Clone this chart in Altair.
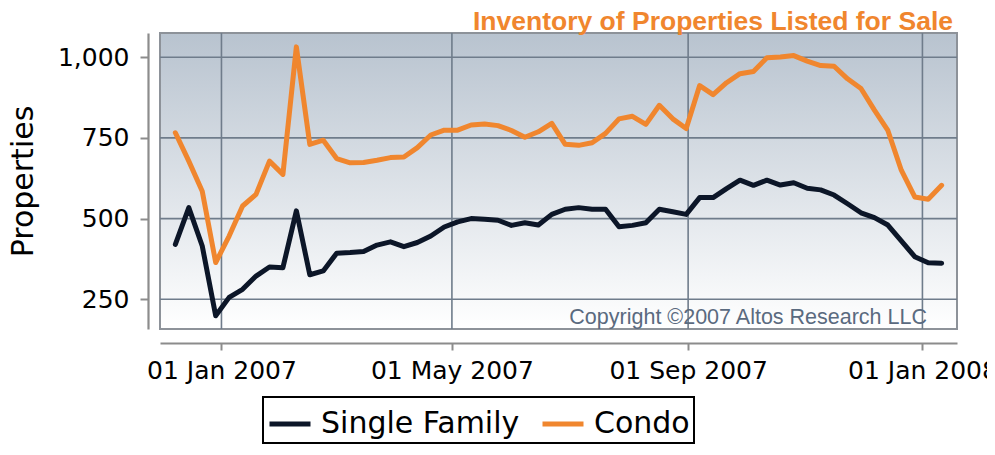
import altair as alt
import pandas as pd

# ---- data (weekly) ----
start_date = "2006-12-08"
n_weeks = 58
dates = [d.strftime("%Y-%m-%d") for d in pd.date_range(start_date, periods=n_weeks, freq="7D")]

single_family = [420, 534, 415, 199, 256, 281, 322, 350, 348, 524, 326, 338, 393, 395, 398,
                 418, 428, 413, 426, 446, 474, 490, 500, 498, 495, 479, 487, 480, 513, 529,
                 534, 529, 529, 475, 479, 487, 529, 521, 513, 565, 565, 593, 619, 603, 619,
                 604, 611, 594, 589, 573, 546, 518, 503, 480, 431, 382, 363, 362]
condo = [766, 678, 585, 364, 446, 539, 575, 678, 637, 1032, 730, 743, 686, 673, 674,
         681, 689, 691, 720, 759, 774, 774, 790, 793, 788, 773, 752, 769, 795, 730,
         727, 735, 764, 809, 817, 792, 851, 809, 779, 912, 884, 921, 949, 956, 998,
         1001, 1005, 988, 974, 972, 933, 903, 836, 773, 650, 567, 560, 603]

series_names = ["Single Family", "Condo"]
series_colors = ["#0c1628", "#f0862e"]
y_ticks = [250, 500, 750, 1000]
x_ticks = ["2007-01-01", "2007-05-01", "2007-09-01", "2008-01-01"]
x_domain = ["2006-11-30", "2008-01-19"]
y_domain = [158, 1075]
title_text = "Inventory of Properties Listed for Sale"
copyright_text = "Copyright \u00a92007 Altos Research LLC"

W, H = 797, 296

df = pd.DataFrame({
    "date": dates * 2,
    "series": ["Single Family"] * n_weeks + ["Condo"] * n_weeks,
    "value": single_family + condo,
})


def dt(s):
    y, m, d = (int(p) for p in s.split("-"))
    return alt.DateTime(year=y, month=m, date=d, utc=True)


xscale = alt.Scale(type="utc", domain=[dt(s) for s in x_domain])
yscale = alt.Scale(domain=y_domain, nice=False, zero=False)

xaxis = alt.Axis(values=[dt(s) for s in x_ticks], format="%d %b %Y",
                 title=None, offset=14, tickSize=7, labelPadding=8,
                 labelFlush=False, labelOverlap=False, grid=False)
yaxis = alt.Axis(values=y_ticks, format=",.0f", title="Properties",
                 offset=12, tickSize=8, labelPadding=11, titlePadding=19,
                 grid=False)

grad = alt.Gradient(
    gradient="linear",
    stops=[alt.GradientStop(color="#b8c3cf", offset=0),
           alt.GradientStop(color="#ffffff", offset=1)],
    x1=0, x2=0, y1=0, y2=1,
)

bg = alt.Chart(pd.DataFrame({"k": [0]})).mark_rect(
    fill=grad, stroke="#8d9299", strokeWidth=2
).encode(x=alt.value(0), x2=alt.value(W), y=alt.value(0), y2=alt.value(H))

grid_color = "#6f7c8b"
vgrid = alt.Chart(pd.DataFrame({"date": x_ticks})).mark_rule(
    color=grid_color, strokeWidth=1.6
).encode(x=alt.X("date:T", scale=xscale, axis=xaxis))

hgrid = alt.Chart(pd.DataFrame({"value": y_ticks})).mark_rule(
    color=grid_color, strokeWidth=1.6
).encode(y=alt.Y("value:Q", scale=yscale, axis=yaxis))

lines = alt.Chart(df).mark_line(
    strokeWidth=5, strokeJoin="round", strokeCap="round"
).encode(
    x=alt.X("date:T", scale=xscale, axis=xaxis),
    y=alt.Y("value:Q", scale=yscale, axis=yaxis),
    color=alt.Color("series:N",
                    scale=alt.Scale(domain=series_names, range=series_colors),
                    sort=series_names,
                    legend=alt.Legend(title=None)),
)

note = alt.Chart(pd.DataFrame({"t": [copyright_text]})).mark_text(
    align="right", baseline="alphabetic", font="Liberation Sans",
    fontSize=21.5, color="#5a6a7f"
).encode(text="t:N", x=alt.value(W - 30), y=alt.value(291))

chart = alt.layer(bg, vgrid, hgrid, lines, note).properties(
    width=W, height=H,
    padding={"left": 152, "top": 25, "right": 30, "bottom": 118},
    autosize=alt.AutoSizeParams(type="none"),
    title=alt.TitleParams(
        text=title_text, anchor="end", frame="group", color="#f0862e",
        font="Liberation Sans", fontSize=26.5, fontWeight="bold",
        offset=2, dx=-4, dy=5,
    ),
).configure_view(stroke=None).configure_axis(
    domainColor="#8c8c8c", domainWidth=2.2, tickColor="#8c8c8c", tickWidth=2,
    labelFont="DejaVu Sans", labelFontSize=25, labelColor="#000000",
    titleFont="DejaVu Sans", titleFontSize=30, titleFontWeight="normal",
    titleColor="#000000",
).configure_legend(
    orient="none", legendX=103, legendY=364, direction="horizontal",
    strokeColor="#000000", strokeWidth=2, fillColor="#ffffff", padding=4,
    symbolType="stroke", symbolSize=1681, symbolStrokeWidth=5,
    labelFont="DejaVu Sans", labelFontSize=30, labelColor="#000000",
    labelOffset=8, columnPadding=12, labelLimit=400, cornerRadius=0,
)

chart.save("out.html", embed_options={"renderer": "svg", "actions": False})
